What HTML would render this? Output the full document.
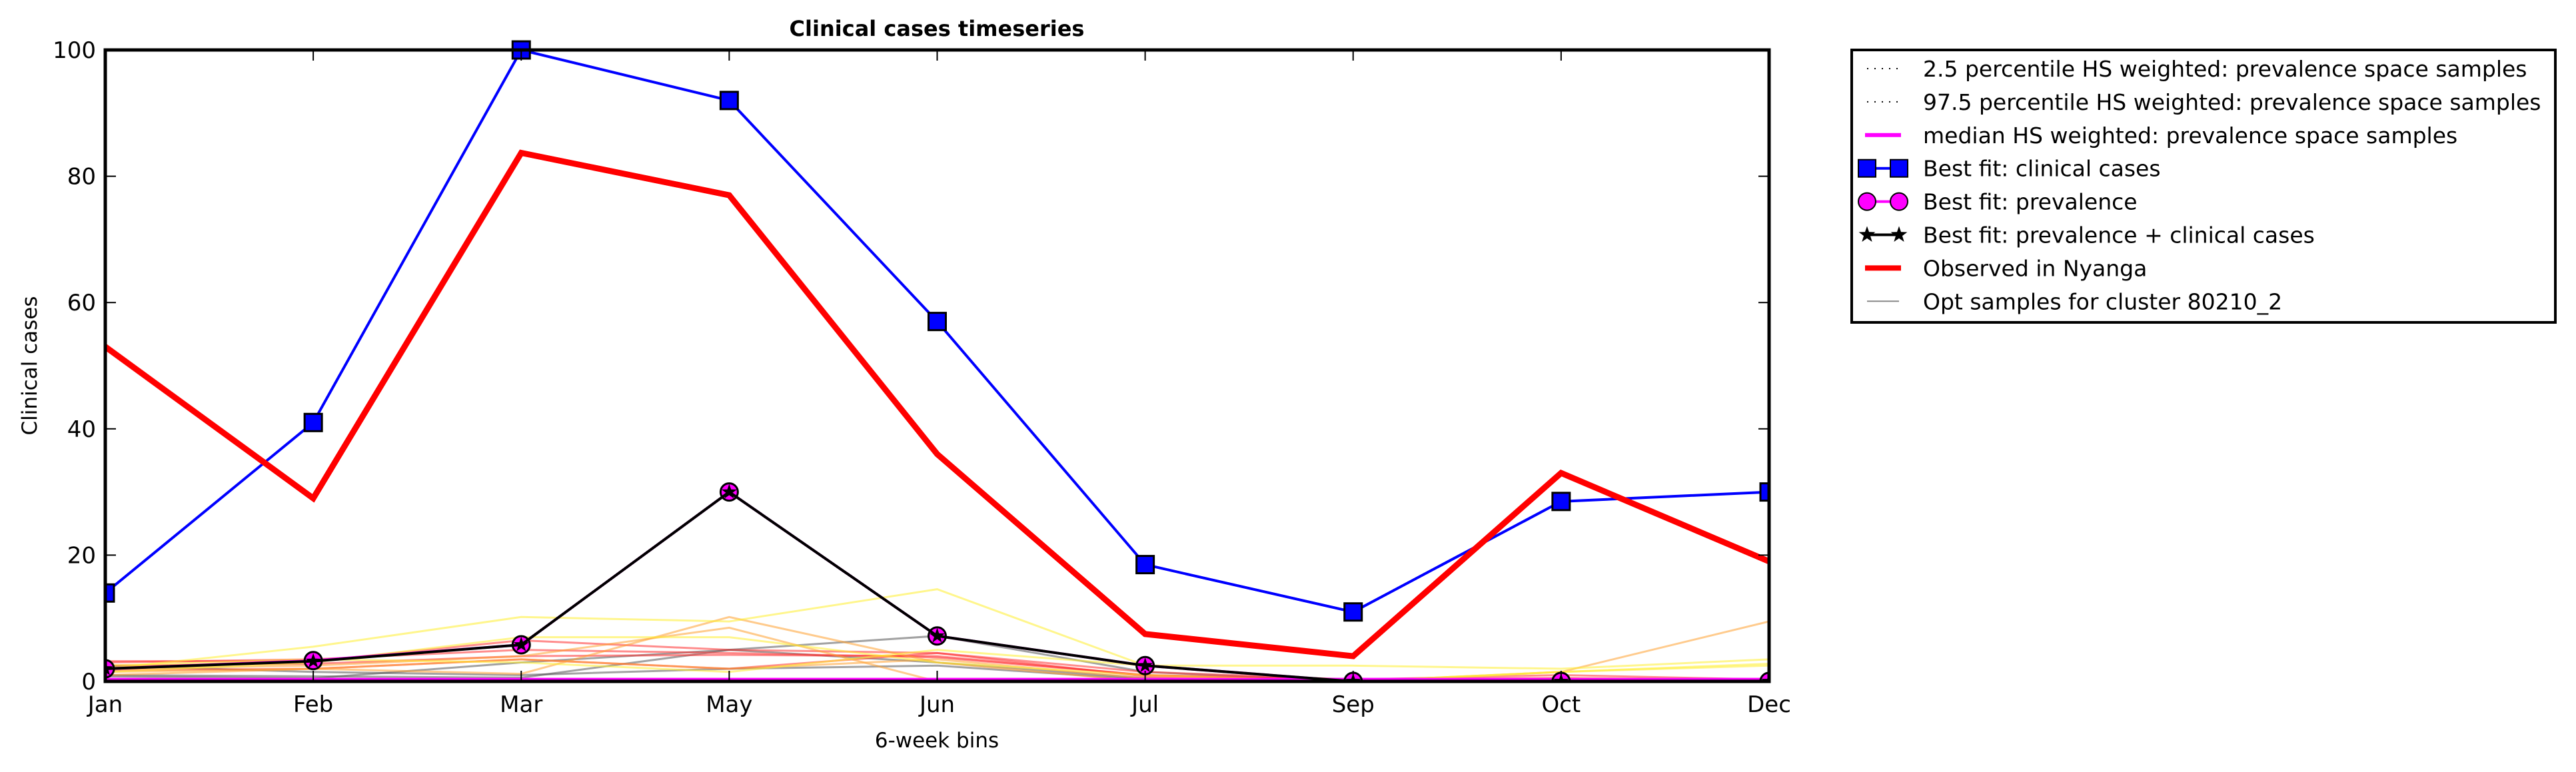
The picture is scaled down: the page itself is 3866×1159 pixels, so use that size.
<!DOCTYPE html>
<html><head><meta charset="utf-8"><style>
html,body{margin:0;padding:0;background:#fff;}
svg{display:block;font-family:"DejaVu Sans","Liberation Sans",sans-serif;}
</style></head><body>
<svg id="chart" width="3866" height="1159" viewBox="0 0 3866 1159" xmlns="http://www.w3.org/2000/svg">
<rect width="3866" height="1159" fill="#fff"/>
<g id="plot"></g>
<text x="1406" y="54" font-size="32" font-weight="bold" text-anchor="middle">Clinical cases timeseries</text>
<text x="1406" y="1122" font-size="31" text-anchor="middle">6-week bins</text>
<text x="55" y="549" font-size="31" text-anchor="middle" transform="rotate(-90 55 549)">Clinical cases</text>
<g id="legend"></g>
</svg>
<script>
const categories=["Jan","Feb","Mar","May","Jun","Jul","Sep","Oct","Dec"];
const yTicks=[0,20,40,60,80,100];
const bestClinical=[14,41,100,92,57,18.5,11,28.5,30];
const observed=[53,29,83.7,77,36,7.5,4,33,19];
const bestPrevClin=[2,3.2,5.8,30,7.2,2.5,0,0,0];
const bestPrev=[2,3.3,5.8,30,7.2,2.5,0,0,0];
const medianHS=[0.3,0.3,0.3,0.3,0.3,0.3,0.3,0.3,0.3];
const sampleYellowA=[2,5.5,10.2,9.5,14.6,2.5,2.5,2,3.5];
const sampleYellowB=[1.5,3,7,7,3,1,0,1.5,2.8];
const sampleYellowC=[2.5,3.5,3,1.5,5,2.5,0,1.5,2.5];
const sampleOrangeA=[1,2,1.2,10.2,3,0,0,1.5,9.5];
const sampleOrangeB=[2,2.5,4,8.5,0,0,0,0.5,0.3];
const sampleOrangeC=[1.5,2,3.5,2,3.5,0.5,0,0.3,0.3];
const sampleRedA=[3.2,3.2,6.5,5,4.5,1.5,0.3,0.5,0.2];
const sampleRedB=[2.5,2.8,4,4.2,4,1,0.3,1,0.3];
const sampleRedC=[1.8,2,3.5,2,4.5,0.8,0.3,0.5,0.2];
const sampleRedD=[3,3.5,5,4.5,3.8,1,0.2,0.3,0.2];
const sampleGreyA=[1,0.8,0.6,5,7.2,1.5,0,0,0];
const sampleGreyB=[0.8,0.5,3,5,3,0.5,0,0,0];
const sampleGreyC=[2.5,1.5,1,2,2.5,0.3,0,0,0];

const NS="http://www.w3.org/2000/svg";
const L=158,R=2655,T=75,B=1023;
const x=i=>L+(R-L)*i/(categories.length-1);
const y=v=>B-(B-T)*v/100;
const plot=document.getElementById('plot');
function mk(tag,attrs,parent){const e=document.createElementNS(NS,tag);for(const k in attrs)e.setAttribute(k,attrs[k]);parent.appendChild(e);return e;}
const defs=mk('defs',{},plot);
const cp=mk('clipPath',{id:'clip'},defs);
mk('rect',{x:L,y:T-20,width:R-L,height:B-T+20},cp);
const g=mk('g',{'clip-path':'url(#clip)'},plot);
function line(arr,stroke,w,op,name){
  const p=mk('polyline',{points:arr.map((v,i)=>x(i)+','+y(v)).join(' '),fill:'none',stroke:stroke,'stroke-width':w,'stroke-opacity':op,'stroke-linejoin':'miter'},g);
  
  
  return p;
}
const samples=[[sampleGreyA,'#555'],[sampleGreyB,'#555'],[sampleGreyC,'#555'],[sampleRedA,'#ff3030'],[sampleRedB,'#ff3030'],[sampleRedC,'#ff3030'],[sampleRedD,'#ff3030'],[sampleOrangeA,'#ffa030'],[sampleOrangeB,'#ffa030'],[sampleOrangeC,'#ffa030'],[sampleYellowA,'#ffee30'],[sampleYellowB,'#ffee30'],[sampleYellowC,'#ffee30']];
samples.forEach(s=>line(s[0],s[1],3,0.55,'opt-sample-line'));
line(medianHS,'#ff00ff',5,1,'median-hs-line');
line(bestClinical,'#0000ff',4,1,'best-fit-clinical-line');
bestClinical.forEach((v,i)=>{
  const r=mk('rect',{x:x(i)-13,y:y(v)-13,width:26,height:26,fill:'#0000ff',stroke:'#000','stroke-width':3},g);
  
  
});
line(bestPrev,'#ff00ff',4,1,'best-fit-prevalence-line');
bestPrev.forEach((v,i)=>{
  const c=mk('circle',{cx:x(i),cy:y(v),r:13,fill:'#ff00ff',stroke:'#000','stroke-width':3},g);
  
  
});
line(bestPrevClin,'#000',4,1,'best-fit-prev-clinical-line');
function star(cx,cy,r){let pts=[];for(let k=0;k<10;k++){const a=-Math.PI/2+k*Math.PI/5;const rr=k%2?r*0.4:r;pts.push((cx+rr*Math.cos(a))+','+(cy+rr*Math.sin(a)));}return pts.join(' ');}
bestPrevClin.forEach((v,i)=>{
  const s=mk('polygon',{points:star(x(i),y(v),12),fill:'#000'},g);
  
  
});
line(observed,'#ff0000',9,1,'observed-line');
const fr=mk('rect',{x:L,y:T,width:R-L,height:B-T,fill:'none',stroke:'#000','stroke-width':5},plot);


yTicks.forEach(v=>{
  mk('line',{x1:L,x2:L+16,y1:y(v),y2:y(v),stroke:'#000','stroke-width':2},plot);
  mk('line',{x1:R-16,x2:R,y1:y(v),y2:y(v),stroke:'#000','stroke-width':2},plot);
  const t=mk('text',{x:L-14,y:y(v)+12,'font-size':34,'text-anchor':'end'},plot);
  t.textContent=v;
  
  
});
categories.forEach((c,i)=>{
  mk('line',{x1:x(i),x2:x(i),y1:B,y2:B-16,stroke:'#000','stroke-width':2},plot);
  mk('line',{x1:x(i),x2:x(i),y1:T,y2:T+16,stroke:'#000','stroke-width':2},plot);
  const t=mk('text',{x:x(i),y:1069,'font-size':34,'text-anchor':'middle'},plot);
  t.textContent=c;
  
  
});
const lg=document.getElementById('legend');
mk('rect',{x:2779,y:75,width:1056,height:409,fill:'#fff',stroke:'#000','stroke-width':4},lg);
const items=[
 ['2.5 percentile HS weighted: prevalence space samples','dot'],
 ['97.5 percentile HS weighted: prevalence space samples','dot'],
 ['median HS weighted: prevalence space samples','mag'],
 ['Best fit: clinical cases','sq'],
 ['Best fit: prevalence','circ'],
 ['Best fit: prevalence + clinical cases','star'],
 ['Observed in Nyanga','red'],
 ['Opt samples for cluster 80210_2','grey']];
items.forEach((it,k)=>{
  const cy=103+k*49.9;
  const a=2802,b=2850;
  if(it[1]==='dot') mk('line',{x1:a,x2:b,y1:cy,y2:cy,stroke:'#000','stroke-width':2,'stroke-dasharray':'2 9'},lg);
  if(it[1]==='mag') mk('line',{x1:a-3,x2:b+3,y1:cy,y2:cy,stroke:'#ff00ff','stroke-width':6},lg);
  if(it[1]==='red') mk('line',{x1:a-3,x2:b+3,y1:cy,y2:cy,stroke:'#ff0000','stroke-width':8},lg);
  if(it[1]==='grey') mk('line',{x1:a,x2:b,y1:cy,y2:cy,stroke:'#888','stroke-width':2},lg);
  if(it[1]==='sq'){mk('line',{x1:a,x2:b,y1:cy,y2:cy,stroke:'#0000ff','stroke-width':4},lg);[a,b].forEach(px=>mk('rect',{x:px-13,y:cy-13,width:26,height:26,fill:'#0000ff',stroke:'#000','stroke-width':2},lg));}
  if(it[1]==='circ'){mk('line',{x1:a,x2:b,y1:cy,y2:cy,stroke:'#ff00ff','stroke-width':4},lg);[a,b].forEach(px=>mk('circle',{cx:px,cy:cy,r:13,fill:'#ff00ff',stroke:'#000','stroke-width':2},lg));}
  if(it[1]==='star'){mk('line',{x1:a,x2:b,y1:cy,y2:cy,stroke:'#000','stroke-width':4},lg);[a,b].forEach(px=>mk('polygon',{points:star(px,cy,13),fill:'#000'},lg));}
  const t=mk('text',{x:2886,y:cy+12,'font-size':33},lg);
  t.textContent=it[0];
  
  
});
</script>
</body></html>
